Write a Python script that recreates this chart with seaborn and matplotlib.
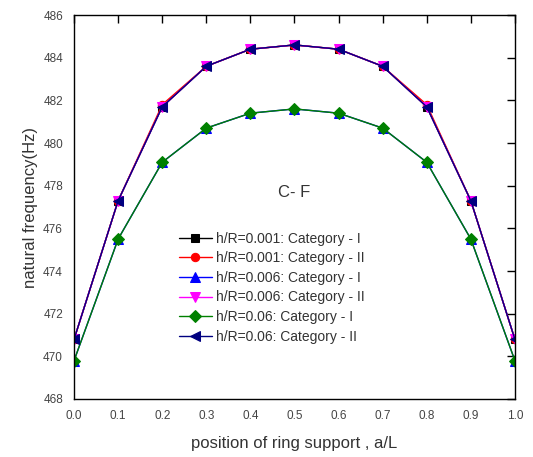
import numpy as np
import pandas as pd
import matplotlib
matplotlib.use("Agg")
import matplotlib.pyplot as plt
import seaborn as sns

# Data
pos = [0.0, 0.1, 0.2, 0.3, 0.4, 0.5, 0.6, 0.7, 0.8, 0.9, 1.0]
upper = [470.8, 477.3, 481.7, 483.6, 484.4, 484.6, 484.4, 483.6, 481.7, 477.3, 470.8]
upper_red = [470.8, 477.3, 481.8, 483.6, 484.4, 484.6, 484.4, 483.6, 481.8, 477.3, 470.8]
lower = [469.8, 475.5, 479.1, 480.7, 481.4, 481.6, 481.4, 480.7, 479.1, 475.5, 469.8]

labels = ["h/R=0.001: Category - I", "h/R=0.001: Category - II",
          "h/R=0.006: Category - I", "h/R=0.006: Category - II",
          "h/R=0.06: Category - I", "h/R=0.06: Category - II"]
series = [upper, upper_red, lower, upper, lower, upper]
colors = ["black", "red", "blue", "magenta", "green", "navy"]
markers = ["s", "o", "^", "v", "D", "<"]
sizes = [6, 6, 7, 7, 6, 7]

sns.set_style("white")
plt.rcParams['font.family'] = ['Liberation Sans', 'DejaVu Sans']

fig = plt.figure(figsize=(5.33, 4.57), dpi=100)
ax = fig.add_axes([0.139, 0.127, 0.827, 0.840])

for lab, vals, c, m, s in zip(labels, series, colors, markers, sizes):
    df = pd.DataFrame({"pos": pos, "freq": vals})
    sns.lineplot(data=df, x="pos", y="freq", ax=ax, color=c, marker=m,
                 markersize=s, markeredgecolor=c, linewidth=1, label=lab)

ax.set_xlim(0, 1.0)
ax.set_ylim(468, 486)
ax.set_xticks(np.arange(0, 1.01, 0.1))
ax.set_xticklabels([f"{v:.1f}" for v in np.arange(0, 1.01, 0.1)])
ax.set_yticks(np.arange(468, 487, 2))
ax.tick_params(direction="in", length=6, width=1, top=True, right=True,
               labelsize=8.5, labelcolor="#444444", color="black", pad=8)
for sp in ax.spines.values():
    sp.set_color("black")
    sp.set_linewidth(1)

ax.set_xlabel("position of ring support , a/L", fontsize=12, color="#333333", labelpad=10)
ax.set_ylabel("natural frequency(Hz)", fontsize=12, color="#333333", labelpad=4)

ax.text(0.5, 477.7, "C- F", fontsize=12, color="#333333", ha="center", va="center")

leg = ax.legend(loc="upper left", bbox_to_anchor=(0.225, 0.45), frameon=False,
                fontsize=10, handlelength=2.4, handletextpad=0.3,
                labelspacing=0.4, borderaxespad=0)
for t in leg.get_texts():
    t.set_color("#333333")

fig.savefig("out.png", dpi=100)
